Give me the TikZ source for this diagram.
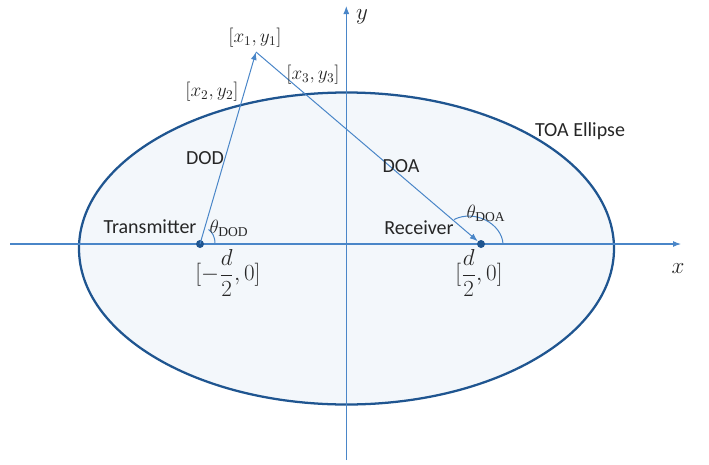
\documentclass[tikz,border=0pt]{standalone}
\usepackage{fontspec}
\setmainfont{Liberation Serif}
\newfontfamily\lblfont{Carlito}
\usetikzlibrary{arrows.meta}
\definecolor{axisblue}{HTML}{4A86C8}
\definecolor{ellblue}{HTML}{1F5590}
\definecolor{ellfill}{HTML}{F3F7FB}
\definecolor{txtgray}{HTML}{262626}
\tikzset{
  axis/.style={draw=axisblue, line width=0.8pt, -{Latex[length=6pt,width=4.5pt]}},
  ray/.style={draw=axisblue, line width=0.75pt, -{Latex[length=6pt,width=4.5pt]}},
  lbl/.style={font=\lblfont\fontsize{15}{17}\selectfont, text=txtgray, inner sep=0pt},
  mth/.style={font=\fontsize{14.5}{17}\selectfont, text=txtgray, inner sep=0pt},
  bigmth/.style={font=\fontsize{16}{18}\selectfont, text=txtgray, inner sep=0pt},
  dot/.style={circle, fill=ellblue, inner sep=0pt, minimum size=6pt},
  anglearc/.style={draw=axisblue, line width=0.75pt}
}
\begin{document}
\begin{tikzpicture}[x=0.75pt,y=-0.75pt]
\useasboundingbox (0,0) rectangle (709,464);
% ellipse
\draw[draw=ellblue, line width=1.7pt, fill=ellfill] (346.5,248.5) ellipse [x radius=267.5, y radius=156];
% axes
\coordinate (xs) at (10,244);
\coordinate (xe) at (681,244);
\coordinate (ys) at (346.3,460);
\coordinate (ye) at (346.3,6);
\draw[axis] (xs) -- (xe);
\draw[axis] (ys) -- (ye);
\node[bigmth] (xl) at (678,269) {$x$};
\node[bigmth, anchor=north] (yl) at (362,9) {$y$};
% points
\node[dot] (tx) at (200,244) {};
\node[dot] (rx) at (481,244) {};
\coordinate (p1) at (256,52);
% rays
\draw[ray] (tx.center) -- (p1);
\draw[ray] (p1) -- (rx);
% angle arcs
\draw[anglearc] (215,244) .. controls (215,236) and (212,232) .. (208.5,229.5);
\draw[anglearc] (503,244) .. controls (502,224) and (475,209) .. (454,219.5);
% labels
\node[mth] (l1) at (255,38) {$[x_1,y_1]$};
\node[mth] (l2) at (212,92) {$[x_2,y_2]$};
\node[mth] (l3) at (313,75) {$[x_3,y_3]$};
\node[lbl] (dod) at (205,158) {DOD};
\node[lbl] (doa) at (401,166) {DOA};
\node[lbl] (tr) at (150,227) {Transmitter};
\node[lbl] (re) at (419,228) {Receiver};
\node[lbl] (toa) at (580,131) {TOA Ellipse};
\node[mth] (thd) at (229,228) {$\theta_{\mathrm{\scriptstyle DOD}}$};
\node[mth] (tha) at (486,213) {$\theta_{\mathrm{\scriptstyle DOA}}$};
\node[bigmth] (pt) at (228,273) {$[-\displaystyle\frac{d}{2},0]$};
\node[bigmth] (pr) at (479,273) {$[\displaystyle\frac{d}{2},0]$};
\end{tikzpicture}
\end{document}
